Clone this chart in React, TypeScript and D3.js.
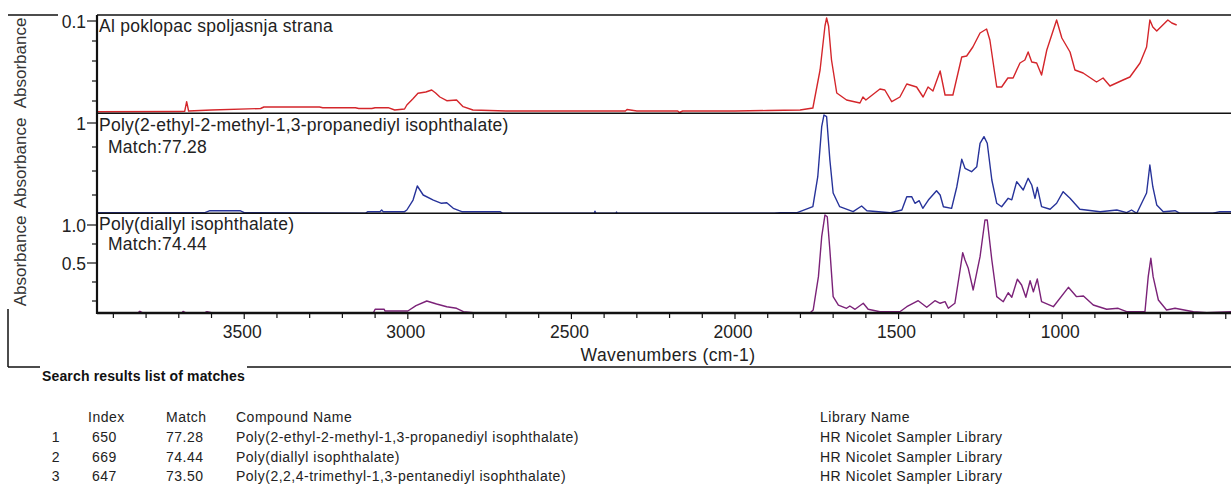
import React from "react";
import * as d3 from "d3";

const FONT = "'Liberation Sans', Arial, Helvetica, sans-serif";
const W = 1231;
const H = 485;

// [wavenumber cm-1, absorbance]
const sampleSpectrum: [number, number][] = [
  [3950, 0.0093], [3700, 0.0095], [3682, 0.0096], [3676, 0.0193], [3670, 0.01], [3600, 0.011],
  [3450, 0.0125], [3440, 0.014], [3270, 0.014], [3260, 0.0133], [3160, 0.0133], [3150, 0.0125],
  [3110, 0.0125], [3100, 0.0133], [3060, 0.0133], [3040, 0.011], [3010, 0.012], [3003, 0.016],
  [2985, 0.022], [2969, 0.0277], [2945, 0.029], [2927, 0.031], [2915, 0.028], [2902, 0.024],
  [2881, 0.0203], [2851, 0.021], [2831, 0.0143], [2801, 0.011], [2700, 0.01], [2500, 0.01],
  [2335, 0.01], [2330, 0.0115], [2300, 0.01], [2175, 0.01], [2170, 0.0085], [2160, 0.01],
  [2000, 0.01], [1900, 0.0105], [1801, 0.011], [1762, 0.013], [1740, 0.051], [1725, 0.095],
  [1720, 0.103], [1714, 0.095], [1705, 0.061], [1689, 0.028], [1659, 0.021], [1618, 0.018],
  [1609, 0.024], [1600, 0.021], [1557, 0.032], [1542, 0.031], [1521, 0.0193], [1496, 0.024],
  [1475, 0.037], [1445, 0.034], [1425, 0.024], [1410, 0.034], [1395, 0.03], [1373, 0.05],
  [1358, 0.026], [1334, 0.026], [1307, 0.064], [1292, 0.065], [1273, 0.074], [1251, 0.088],
  [1231, 0.092], [1221, 0.081], [1200, 0.034], [1185, 0.034], [1166, 0.043], [1150, 0.043],
  [1129, 0.058], [1114, 0.061], [1104, 0.069], [1093, 0.059], [1078, 0.058], [1063, 0.046],
  [1047, 0.071], [1032, 0.086], [1017, 0.101], [1001, 0.083], [976, 0.069], [961, 0.051],
  [936, 0.048], [895, 0.039], [875, 0.043], [854, 0.035], [814, 0.041], [793, 0.044],
  [762, 0.058], [742, 0.074], [732, 0.101], [723, 0.094], [711, 0.09], [677, 0.101],
  [665, 0.098], [650, 0.096],
];

const match1Spectrum: [number, number][] = [
  [3950, 0.2525], [3620, 0.2525], [3605, 0.269], [3513, 0.269], [3500, 0.2525], [3130, 0.2475],
  [3122, 0.261], [3085, 0.261], [3080, 0.275], [3075, 0.261], [3010, 0.261], [3003, 0.275],
  [2984, 0.358], [2971, 0.475], [2953, 0.4], [2922, 0.358], [2897, 0.331], [2881, 0.336],
  [2861, 0.289], [2835, 0.261], [2718, 0.261], [2710, 0.2475], [2430, 0.2475], [2428, 0.265],
  [2425, 0.2475], [2364, 0.2475], [2362, 0.258], [2360, 0.2475], [1880, 0.2475], [1862, 0.2525],
  [1810, 0.2525], [1762, 0.3025], [1747, 0.5525], [1735, 0.969], [1728, 1.067], [1720, 1.0525],
  [1710, 0.692], [1700, 0.417], [1680, 0.3025], [1639, 0.261], [1613, 0.308], [1597, 0.269],
  [1525, 0.2525], [1490, 0.275], [1475, 0.386], [1460, 0.386], [1450, 0.331], [1437, 0.3525],
  [1426, 0.289], [1409, 0.358], [1384, 0.436], [1373, 0.4], [1363, 0.3025], [1338, 0.289],
  [1322, 0.469], [1307, 0.6975], [1297, 0.6225], [1277, 0.594], [1261, 0.636], [1251, 0.831],
  [1239, 0.886], [1229, 0.831], [1215, 0.525], [1200, 0.331], [1185, 0.3025], [1165, 0.3725],
  [1154, 0.36], [1139, 0.511], [1119, 0.442], [1104, 0.539], [1093, 0.483], [1083, 0.3725],
  [1076, 0.464], [1063, 0.3025], [1037, 0.281], [1017, 0.331], [997, 0.4275], [976, 0.3725],
  [946, 0.281], [884, 0.261], [833, 0.275], [803, 0.2525], [788, 0.275], [772, 0.2475],
  [742, 0.417], [732, 0.65], [723, 0.469], [711, 0.317], [691, 0.261], [655, 0.269],
  [640, 0.2475], [539, 0.2475], [518, 0.261], [484, 0.261],
];

const match2Spectrum: [number, number][] = [
  [3950, -0.154], [3825, -0.154], [3819, -0.135], [3812, -0.154], [3690, -0.154], [3687, -0.138],
  [3680, -0.154], [3620, -0.154], [3614, -0.14], [3600, -0.154], [3105, -0.154], [3100, -0.109],
  [3072, -0.109], [3070, -0.132], [3000, -0.132], [2975, -0.06], [2942, 0.0], [2912, -0.039],
  [2881, -0.075], [2851, -0.096], [2830, -0.141], [2800, -0.154], [1770, -0.154], [1761, -0.118],
  [1745, 0.32], [1735, 0.846], [1725, 1.132], [1718, 1.109], [1710, 0.671], [1700, 0.057],
  [1684, -0.053], [1659, -0.096], [1649, -0.066], [1633, -0.109], [1608, -0.03], [1593, -0.109],
  [1557, -0.141], [1496, -0.141], [1475, -0.075], [1440, 0.004], [1414, -0.083], [1389, 0.004],
  [1373, -0.03], [1358, -0.009], [1348, -0.096], [1328, -0.03], [1312, 0.408], [1304, 0.636],
  [1297, 0.539], [1287, 0.43], [1272, 0.145], [1251, 0.583], [1236, 1.066], [1229, 1.066],
  [1215, 0.539], [1200, 0.057], [1180, -0.009], [1165, 0.109], [1154, 0.049], [1137, 0.286],
  [1124, 0.211], [1111, 0.049], [1098, 0.267], [1088, 0.122], [1076, 0.289], [1063, -0.009],
  [1027, -0.075], [981, 0.18], [956, 0.057], [935, 0.066], [905, -0.053], [864, -0.109],
  [829, -0.096], [803, -0.141], [747, -0.141], [737, 0.32], [729, 0.562], [722, 0.32],
  [706, 0.013], [681, -0.118], [655, -0.096], [599, -0.141], [558, -0.154], [484, -0.141],
];

const xTickLabels = [3500, 3000, 2500, 2000, 1500, 1000];
const panelTitles = [
  ["Al poklopac spoljasnja strana"],
  ["Poly(2-ethyl-2-methyl-1,3-propanediyl isophthalate)", "Match:77.28"],
  ["Poly(diallyl isophthalate)", "Match:74.44"],
];
const yLabelTicks = [[0.1], [1], [1.0, 0.5]];
const yLabelFormat = [(v: number) => "0.1", (v: number) => "1", d3.format(".1f")];
const yMinorTicks = [[0.08, 0.06, 0.04, 0.02], [0.8, 0.6, 0.4], [0.75, 0.25, 0]];

const tableHeader = ["Index", "Match", "Compound Name", "Library Name"];
const rankNumbers = [1, 2, 3];
const libraryIndex = [650, 669, 647];
const matchScores = ["77.28", "74.44", "73.50"];
const compoundNames = [
  "Poly(2-ethyl-2-methyl-1,3-propanediyl isophthalate)",
  "Poly(diallyl isophthalate)",
  "Poly(2,2,4-trimethyl-1,3-pentanediyl isophthalate)",
];
const libraryNames = ["HR Nicolet Sampler Library", "HR Nicolet Sampler Library", "HR Nicolet Sampler Library"];

const left = 97;
const x = d3.scaleLinear().domain([3950, 484]).range([left, W]);
const xMinor = d3.range(3900, 480, -100);

const panels = [
  { data: sampleSpectrum, color: "#d4262b", top: 15, bottom: 113.3, y: d3.scaleLinear().domain([0.1, 0.02]).range([21, 101]), titleY: [31.5] },
  { data: match1Spectrum, color: "#27339a", top: 113.3, bottom: 213.3, y: d3.scaleLinear().domain([1, 0.4]).range([123, 195]), titleY: [131, 153] },
  { data: match2Spectrum, color: "#7b2278", top: 213.3, bottom: 313, y: d3.scaleLinear().domain([1, 0.5]).range([225, 263]), titleY: [230, 250] },
];

const axisBottom = 313;

export default function App() {
  return (
    <svg
      width={W}
      height={H}
      style={{ position: "absolute", left: 0, top: 0, background: "#fff" }}
      fontFamily={FONT}
    >
      <rect width={W} height={H} fill="#fff" />
      <defs>
        {panels.map((p, i) => (
          <clipPath id={`clip${i}`} key={i}>
            <rect x={left} y={p.top} width={W - left} height={p.bottom - p.top} />
          </clipPath>
        ))}
      </defs>

      {/* outer frame */}
      <line x1={8} x2={58} y1={15} y2={15} stroke="#111" strokeWidth={1.5} />
      <line x1={8} x2={8} y1={309} y2={367} stroke="#111" strokeWidth={1.5} />
      <line x1={8} x2={40} y1={367} y2={367} stroke="#111" strokeWidth={1.5} />
      <line x1={247} x2={W} y1={367} y2={367} stroke="#111" strokeWidth={1.5} />

      {/* y axis titles */}
      {[63, 163, 261].map((cy, i) => (
        <text key={i} transform={`translate(20,${cy}) rotate(-90)`} textAnchor="middle" dy="0.36em" fontSize={17} fill="#333">
          Absorbance
        </text>
      ))}

      {panels.map((p, i) => {
        const line = d3
          .line<[number, number]>()
          .x((d) => x(d[0]))
          .y((d) => p.y(d[1]));
        return (
          <g key={i}>
            <path d={line(p.data) || ""} fill="none" stroke={p.color} strokeWidth={1.4} clipPath={`url(#clip${i})`} strokeLinejoin="round" />
            <line x1={left} x2={W} y1={p.top} y2={p.top} stroke="#111" strokeWidth={1.5} />
            {yLabelTicks[i].map((t) => (
              <g key={t}>
                <line x1={left - 10} x2={left} y1={p.y(t)} y2={p.y(t)} stroke="#111" strokeWidth={1.2} />
                <text x={left - 11} y={p.y(t)} dy="0.42em" textAnchor="end" fontSize={17.5} fill="#222">
                  {yLabelFormat[i](t)}
                </text>
              </g>
            ))}
            {yMinorTicks[i].map((t) => (
              <line key={t} x1={left - 5} x2={left} y1={p.y(t)} y2={p.y(t)} stroke="#111" strokeWidth={1.2} />
            ))}
            {panelTitles[i].map((s, j) => (
              <text key={j} x={j === 0 ? 99 : 108} y={p.titleY[j]} fontSize={17.5} letterSpacing={0.25} fill="#222">
                {s}
              </text>
            ))}
          </g>
        );
      })}

      {/* axes */}
      <line x1={left} x2={left} y1={15} y2={axisBottom + 1} stroke="#111" strokeWidth={2.2} />
      <line x1={left} x2={W} y1={axisBottom} y2={axisBottom} stroke="#111" strokeWidth={2.5} />
      {xMinor.map((t) => (
        <line key={t} x1={x(t)} x2={x(t)} y1={axisBottom} y2={axisBottom + (t % 500 === 0 ? 6 : 5)} stroke="#111" strokeWidth={1.2} />
      ))}
      {xTickLabels.map((t) => (
        <text key={t} x={x(t) - 2} y={338} textAnchor="middle" fontSize={17.5} fill="#222">
          {t}
        </text>
      ))}
      <text x={668} y={361} textAnchor="middle" fontSize={17.5} letterSpacing={0.4} fill="#222">
        Wavenumbers (cm-1)
      </text>

      {/* search results table */}
      <text x={42} y={381} fontSize={14} fontWeight="bold" letterSpacing={0.15} fill="#111">
        Search results list of matches
      </text>
      {tableHeader.map((h, i) => (
        <text key={h} x={[88, 166, 236, 820][i]} y={422} fontSize={14} letterSpacing={0.5} fill="#222">
          {h}
        </text>
      ))}
      {rankNumbers.map((n, i) => {
        const yy = 442 + i * 19.7;
        return (
          <g key={n} fontSize={14} letterSpacing={0.5} fill="#222">
            <text x={56} y={yy} textAnchor="middle">{n}</text>
            <text x={92} y={yy}>{libraryIndex[i]}</text>
            <text x={166} y={yy}>{matchScores[i]}</text>
            <text x={236} y={yy}>{compoundNames[i]}</text>
            <text x={820} y={yy}>{libraryNames[i]}</text>
          </g>
        );
      })}
    </svg>
  );
}
